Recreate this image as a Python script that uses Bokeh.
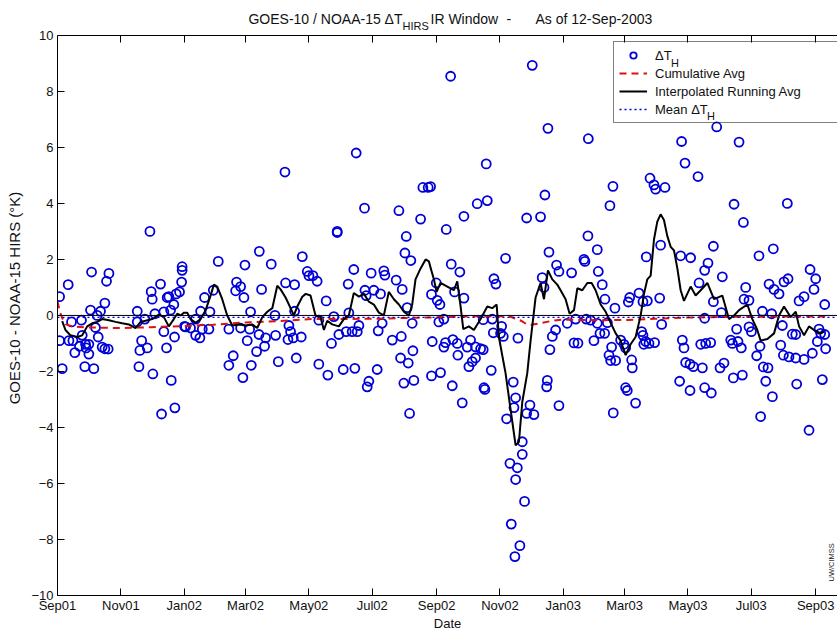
import numpy as np
import pandas as pd
from math import pi
from bokeh.plotting import figure
from bokeh.models import (Range1d, FixedTicker, DatetimeTickFormatter, DatetimeAxis, Legend,
                          LegendItem, Label, Span, CustomJSTickFormatter)
from bokeh.embed import file_html
from bokeh.resources import INLINE

# ---------------- data ----------------
START = "2001-09-01"
END = "2003-09-22"
tick_dates = ["2001-09-01", "2001-11-01", "2002-01-01", "2002-03-01", "2002-05-01", "2002-07-01",
              "2002-09-01", "2002-11-01", "2003-01-01", "2003-03-01", "2003-05-01", "2003-07-01",
              "2003-09-01"]
y_ticks = [-10, -8, -6, -4, -2, 0, 2, 4, 6, 8, 10]
y_tick_labels = ["\u221210", "\u22128", "\u22126", "\u22124", "\u22122", "0", "2", "4", "6", "8", "10"]
Y_MIN, Y_MAX = -10, 10

# observations: days since 2001-09-01, delta T (K)
obs_day = [2, 10.3, 32.8, 49.5, 47.2, 89, 90.2, 91.2, 99.2, 105.6, 107.2, 114.3, 117.5, 45.6, 31.8,
           41.4, 38.2, 13.5, 23.1, 2, 11, 14.8, 36.6, 23.8, 21.2, 27, 27.6, 16.7, 30.2, 43, 45.6, 48.8,
           4.5, 26.3, 35, 76.8, 76.8, 84.1, 81, 79.3, 86.4, 78.4, 91.8, 109.5, 93.8, 102.4, 102.4,
           112.7, 105, 100.2, 113, 108.9, 112, 122.3, 30.2, 39.2,
           120, 120, 119.5, 154.8, 180.5, 194.3, 205.8, 235.7, 219, 172.4, 176.3, 171.5, 179.5, 196.5,
           150, 141.6, 137.8, 146.8, 133, 123.3, 128.1, 133, 137.1, 139.4, 145.8, 165, 176.3, 185,
           182.7, 185.9, 194, 200.4, 210, 191.7, 199.4, 169.2, 165, 186.6, 178.5, 212.6, 229.9, 219.6,
           228.3, 222.8, 224.4, 221.9, 227, 234.7, 209.4, 240.5, 242.1, 228.3,
           287.6, 295.6, 328.7, 349.6, 351.8, 356.9, 269.3, 269.3, 335.8, 334.5, 340.2, 285.3, 302,
           314.2, 315.2, 326.1, 331.9, 279.9, 245.9, 250, 258.7, 296, 297.2, 304.6, 311, 280.5, 266.1,
           251.6, 270.9, 278, 283.7, 288.6, 290.2, 263.8, 308.8, 312.6, 322.3, 331, 336.7, 341.5,
           342.2, 330.3, 337.7, 251.6, 260.3, 275.1, 286.3, 307.8, 299.8, 298.2, 333.5, 343.1, 339,
           360.1, 360.8, 360.1,
           378.5, 457.1, 472.2, 412.8, 469.3, 404.1, 413.8, 391.3, 451.7, 465.1, 374.3, 473.2, 431.4,
           359.2, 379.1, 387.4, 420.2, 422.1, 466.7, 480.5, 482.8, 364.7, 365.6, 368.2, 382.3, 391.3,
           468.4, 367.2, 372, 373.6, 372, 380.7, 384.9, 385.5, 394.5, 397.7, 402.5, 407.4, 409.9,
           396.1, 399.3, 402.5, 368.8, 380.1, 410.6, 411.5, 389.7, 417.6, 409.9, 418.6, 419.6, 426.6,
           429.2, 427.6, 443.3, 438.8, 441.1, 439.5, 432.4, 454.9, 451.7, 458.7, 447.5, 447.5, 435.6,
           442.7, 441.1, 449.7, 436.9, 445.2, 440.4, 471.6, 471, 474.1, 476.4, 479.6, 482.8,
           511.1, 600.9, 604.2, 534.8, 570.5, 575.9, 584.9, 574.3, 531.9, 510.7, 519.7, 506.9, 507.8,
           520.7, 495, 524.5, 527.1, 536.7, 550.9, 549.6, 559.9, 563.7, 567.9, 566.9, 580.7, 600,
           579.8, 581.7, 490.8, 498.9, 497.3, 501.1, 509.1, 513.3, 516.5, 519.7, 522.3, 526.8, 529.4,
           533.5, 531, 532.6, 537.4, 542.2, 545.4, 547, 552.8, 553.4, 562.4, 563.7, 566.3, 564.5,
           569.5, 574.9, 547, 548.6, 556.6, 535.1, 601.6, 603.2, 604.8, 599,
           634.7, 656.2, 616.7, 651.4, 660.4, 702.7, 631.5, 609.6, 675.4, 689.2, 626.3, 623.1, 640.1,
           617.7, 662.6, 661, 665.8, 631.5, 685.1, 689.9, 694.7, 699.5, 703.4, 724.6, 730, 714,
           718.8, 728.4, 738.7, 623.1, 639.2, 678.7, 687.6, 619.3, 624.1, 628.9, 653.9, 648.2, 649.8,
           655.2, 658.4, 665.8, 668.1, 676.4, 673.2, 697.9, 696.3, 698.9, 707.5, 710.8, 704.3, 710.8,
           718.8, 726.8, 733.2, 734.8, 738.7, 731.6, 739.6, 609, 612.2, 620.9, 637.9, 641.7, 609,
           623.1, 629.5, 650.7, 659.4, 679.6, 684.1, 681.9, 688.3, 677, 711.7, 736.4, 723.6]
obs_dth = [0.67, 1.1, 1.55, 1.5, 1.22, 3.0, 0.85, 0.58, 1.12, 0.64, 0.67, 0.77, 0.84, 0.44, 0.19,
           0.15, 0.0, -0.23, -0.17, -0.9, -0.9, -0.9, -0.43, -0.71, -1.1, -1.03, -1.16, -1.33, -1.38,
           -1.13, -1.19, -1.2, -1.9, -1.83, -1.9, 0.15, -0.23, -0.13, -0.9, -1.25, -1.16, -1.83,
           -2.09, -2.32, 0.06, 0.13, -0.58, -0.77, -1.16, -3.52, -3.3, 0.19, 0.39, -0.39, -1.03, -0.77,
           1.74, 1.61, 1.19, 1.93, 1.8, 2.29, 1.83, 2.1, 5.12, 1.19, 1.03, 0.88, 0.64, 0.93, 0.9,
           0.64, 0.15, 0.13, -0.13, -0.41, -0.45, -0.71, -0.8, -0.49, -0.49, -0.49, -0.45, -0.49,
           -0.9, 0.13, -0.68, -0.8, -0.71, -1.29, -1.1, -1.44, -1.78, -1.78, -2.22, -1.65, -1.52,
           1.16, 1.1, -0.36, -0.58, -0.86, -0.8, -0.77, 0.0, 1.57, 1.42, 0.15,
           5.8, 3.83, 3.74, 3.44, 4.57, 4.57, 3.0, 2.96, 2.82, 2.23, 1.96, 1.64, 1.51, 1.59, 1.44,
           1.26, 0.93, 1.12, 1.42, 1.22, 0.52, 0.9, 0.71, 0.9, 0.77, 0.09, -0.04, -0.17, -0.68,
           -0.58, -0.58, -0.58, -0.36, -1.0, -0.55, -0.28, -0.88, -0.75, 0.28, -0.28, -1.26, -1.52,
           -1.7, -1.74, -2.13, -1.93, -1.89, -1.93, -2.35, -2.55, -2.42, -2.32, -3.5, -2.16, -0.93,
           0.75,
           8.54, 8.93, 6.68, 5.41, 4.3, 3.99, 4.1, 3.54, 3.48, 3.52, 3.07, 2.26, 2.04, 4.6, 1.83,
           1.55, 1.31, 1.12, 1.35, 1.8, 1.57, 1.16, 0.54, 0.39, 0.84, 0.62, 1.0, -0.23, -0.13, -0.97,
           -1.13, -0.86, -1.0, -1.42, -1.13, -0.88, -1.12, -1.19, -1.22, -1.83, -1.65, -1.52, -2.04,
           -2.51, -2.58, -2.64, -3.12, -1.96, -0.15, -0.13, -0.62, -0.64, -0.75, -0.39, -0.81, -2.38,
           -2.94, -3.29, -3.69, -3.2, -3.5, -3.54, -4.51, -4.96, -5.28, -5.44, -5.86, -6.64, -7.45,
           -8.22, -8.61, -2.32, -2.55, -1.22, -0.75, -0.52, -3.22,
           6.31, 6.21, 5.44, 4.61, 4.9, 4.51, 4.57, 4.66, 3.92, 2.84, 2.35, 2.0, 1.93, 1.57, 1.52,
           1.1, 0.58, 0.26, 0.64, 0.48, 0.8, 0.49, 0.52, 2.09, 2.51, 2.13, 0.62, -0.32, -0.28, -0.13,
           -0.98, -0.99, -0.13, -0.17, -0.9, -0.28, -0.64, -0.64, -0.26, -1.13, -1.42, -1.61, -1.61,
           -0.88, -1.03, -1.16, -1.59, -1.87, -0.58, -0.71, -0.93, -1.03, -1.0, -0.97, -2.58, -2.68,
           -3.13, -3.48, -0.88, -1.16, -1.68, -2.35,
           6.73, 6.19, 4.96, 3.97, 3.32, 4.0, 2.47, 2.06, 2.13, 2.38, 1.87, 1.61, 1.38, 1.16, 1.0,
           0.58, 0.54, 0.49, 1.12, 0.93, 0.77, 1.2, 1.31, 1.64, 1.31, 0.52, 0.67, 0.93, 0.39, -0.1,
           0.1, 0.15, 0.06, -1.03, -1.0, -0.97, -0.49, -0.88, -1.0, -0.93, -1.16, -0.41, -0.58, -1.1,
           -1.44, -0.36, -1.06, -1.42, -0.67, -0.68, -1.48, -1.52, -1.57, -1.35, -0.49, -0.64, -0.68,
           -0.93, -1.19, -1.74, -1.83, -1.87, -1.87, -1.7, -2.68, -2.58, -2.77, -2.23, -2.13, -1.84,
           -1.87, -2.35, -2.9, -3.61, -2.45, -2.29, -4.1]

# cumulative average
cum_day = [0, 2.5, 5, 8, 15, 30, 60, 90, 120, 150, 180, 215, 245, 300, 350, 400, 435, 447, 452,
           456, 465, 475, 485, 520, 550, 575, 600, 650, 700, 740]
cum_avg = [0.5, 0.1, -0.13, -0.32, -0.4, -0.43, -0.45, -0.42, -0.38, -0.33, -0.25, -0.2, -0.13,
           -0.12, -0.08, -0.03, -0.03, -0.2, -0.32, -0.33, -0.28, -0.2, -0.15, -0.17, -0.16, -0.12,
           -0.08, -0.05, -0.04, -0.04]

# interpolated running average
run_day = [4.5, 7.7, 12.5, 19, 23.8, 28.6, 33.4, 38.2, 43, 49.5, 55.9, 62.3, 68.7, 75.1, 80, 84.8,
           91.2, 97.6, 102.4, 107.2, 112, 115.3, 118.5, 121.7, 124.9, 128.1, 133, 137.8, 142.6,
           147.4, 150.6, 153.8, 158.6, 163.4, 168.3, 174.7, 181.1, 187.5, 192.3, 197.2, 202, 206.8,
           211.6, 214.8, 219.6, 224.4, 227.6, 230.9, 235.7, 239, 243.6, 248.4, 253.2, 256.5, 259.7,
           264.5, 270.9, 275.7, 280.5, 285.3, 290.2, 295, 299.8, 304.6, 309.4, 314.2, 319, 323.9,
           328.7, 333.5, 338.3, 341.5, 344.7, 349.6, 354.4, 357.6, 360, 362.4, 365, 368.8, 375.3,
           381.7, 384.9, 388.1, 390.7, 396.1, 400.9, 407.4, 413.8, 418.6, 422.8, 425, 428.2, 431.4,
           436.2, 441.1, 444.3, 447.5, 452.3, 455.5, 460.3, 465.1, 468.4, 472.2, 476.4, 481.2,
           484.4, 489.2, 493.1, 497.3, 500.5, 505.3, 510.1, 514.3, 518.1, 523, 527.8, 532.6, 537.4,
           542.2, 547, 551.8, 556.6, 561.5, 564.7, 567.9, 571.1, 574.3, 577.5, 580.7, 583.9, 587.1,
           590.4, 593.6, 596.8, 600, 603.2, 609.6, 614.4, 619.3, 625.7, 632.1, 640.1, 646.5, 651.4,
           656.2, 664.2, 669, 673.8, 677, 683.5, 689.9, 694.7, 699.5, 705.9, 710.8, 714, 718.8,
           723.6, 728.4, 734.8, 738]
run_avg = [-0.2, -0.52, -0.71, -0.77, -0.71, -0.39, -0.28, -0.23, -0.13, -0.17, -0.23, -0.28,
           -0.32, -0.45, -0.23, -0.19, -0.13, 0.03, -0.06, -0.39, -0.13, 0.06, 0.0, 0.1, 0.1, -0.13,
           -0.26, -0.13, 0.19, 0.71, 1.1, 1.03, 0.58, 0.0, -0.36, -0.32, -0.36, -0.32, -0.45, -0.06,
           0.13, 0.26, 1.06, 0.93, 0.64, 0.26, 0.0, 0.32, 0.67, 0.77, 0.71, 0.0, -0.06, -0.52, -0.19,
           -0.32, -0.39, -0.13, 0.0, 0.8, 0.67, 0.77, 0.49, 0.39, 0.1, 0.0, 0.84, 0.58, 0.39, 0.13,
           0.0, 0.39, 1.29, 1.68, 2.0, 1.93, 1.6, 1.29, 0.84, 1.16, 1.03, 0.9, 1.22, 0.32, -0.49,
           -0.39, -0.52, -0.13, 0.32, 0.26, 0.39, -0.77, -1.42, -2.06, -3.35, -4.64, -4.51, -3.09,
           -2.06, -0.9, 0.64, 1.16, 0.58, 1.61, 1.29, 1.1, 0.9, 0.58, 0.06, 0.19, 0.97, 0.9, 1.16,
           1.16, 0.9, 0.39, 0.13, -0.26, -0.64, -0.9, -1.42, -1.03, -0.77, 0.0, 0.77, 1.29, 1.42,
           2.71, 3.35, 3.61, 3.41, 2.84, 2.45, 2.32, 1.68, 0.9, 0.52, 1.03, 0.71, 0.9, 1.16, 0.58,
           0.71, -0.13, 0.0, 0.19, 0.39, -0.13, -0.52, -0.9, -0.84, -0.64, 0.0, 0.32, -0.06, 0.13,
           -0.39, -0.71, -0.39, -0.52, -0.64, -0.58]

mean_dth = -0.07

# ---------------- figure ----------------
base = pd.Timestamp(START)


def to_dt(days):
    return base + pd.to_timedelta(np.asarray(days, dtype=float), unit="D")


tick_ms = [pd.Timestamp(d).value / 1e6 for d in tick_dates]
FONT = "Liberation Sans"
INK = "#111111"

# layout: the frame reaches the top of the canvas so that the title (drawn inside it) shows;
# the axes box itself is drawn from Y_MIN to Y_MAX.
FRAME_BOTTOM_PX, BOX_TOP_PX = 597, 35
px_per_unit = (FRAME_BOTTOM_PX - BOX_TOP_PX) / (Y_MAX - Y_MIN)
y_top = Y_MAX + BOX_TOP_PX / px_per_unit

p = figure(width=837, height=633, x_axis_type="datetime",
           x_range=Range1d(pd.Timestamp(START), pd.Timestamp(END)),
           y_range=Range1d(Y_MIN, y_top), output_backend="svg", toolbar_location=None,
           min_border_left=57, min_border_right=0, min_border_top=0, min_border_bottom=36,
           background_fill_color="white", border_fill_color="white")
p.xgrid.visible = False
p.ygrid.visible = False
p.outline_line_color = None

fmt = "%b%y"
p.xaxis.ticker = FixedTicker(ticks=tick_ms)
p.xaxis.formatter = DatetimeTickFormatter(microseconds=fmt, milliseconds=fmt, seconds=fmt,
                                          minsec=fmt, minutes=fmt, hourmin=fmt, hours=fmt,
                                          days=fmt, months=fmt, years=fmt)
p.yaxis.ticker = FixedTicker(ticks=y_ticks)
p.yaxis.bounds = (Y_MIN, Y_MAX)
p.yaxis.major_label_overrides = dict(zip(y_ticks, y_tick_labels))
for ax in (p.xaxis, p.yaxis):
    ax.major_tick_in = 7
    ax.major_tick_out = 0
    ax.minor_tick_line_color = None
    ax.axis_line_color = "black"
    ax.major_tick_line_color = "black"
    ax.major_label_text_font = FONT
    ax.major_label_text_font_size = "13px"
    ax.major_label_text_color = INK
    ax.axis_label_text_font = FONT
    ax.axis_label_text_font_size = "13px"
    ax.axis_label_text_font_style = "normal"
    ax.axis_label_text_color = INK
    ax.major_label_standoff = 2
    ax.axis_label_standoff = 0
p.yaxis.major_label_standoff = 4
p.yaxis.axis_label_standoff = 5
p.yaxis.axis_label_text_font_size = "15px"
p.xaxis.axis_label = "Date"
p.yaxis.axis_label = "GOES-10 - NOAA-15 HIRS (\u00b0K)"

# top edge of the axes box, with inward ticks, at y = Y_MAX
top = DatetimeAxis(ticker=FixedTicker(ticks=tick_ms), formatter=CustomJSTickFormatter(code="return ''"),
                   fixed_location=Y_MAX, major_tick_in=7, major_tick_out=0,
                   minor_tick_line_color=None, axis_line_color="black",
                   major_tick_line_color="black", major_label_standoff=0,
                   major_label_text_font_size="1px")
p.add_layout(top, "above")

p.add_layout(Span(location=0, dimension="width", line_color="black", line_width=1))

sc = p.scatter(to_dt(obs_day), obs_dth, marker="circle", size=9, fill_color=None,
               line_color="#0000d8", line_width=1.8)
cum = p.line(to_dt(cum_day), cum_avg, line_color="#e01010", line_width=2, line_dash="7 5")
run = p.line(to_dt(run_day), run_avg, line_color="black", line_width=2)
mean = p.line([pd.Timestamp(START), pd.Timestamp(END)], [mean_dth, mean_dth],
              line_color="#0000d8", line_width=1.3, line_dash="2 3")

legend = Legend(items=[LegendItem(label="\u0394T", renderers=[sc]),
                       LegendItem(label="Cumulative Avg", renderers=[cum]),
                       LegendItem(label="Interpolated Running Avg", renderers=[run]),
                       LegendItem(label="Mean \u0394T", renderers=[mean])],
                location=(556, 472), margin=0, padding=5, spacing=2, label_height=16,
                glyph_height=16, glyph_width=28, label_standoff=8, label_width=177,
                border_line_color="black", border_line_width=1, background_fill_alpha=0,
                label_text_font=FONT, label_text_font_size="13px", label_text_color=INK)
p.add_layout(legend)

# legend subscripts (screen px from the frame's bottom-left corner)
for lx, ly in ((613.5, 533), (649.5, 480)):
    p.add_layout(Label(x=lx, y=ly, x_units="screen", y_units="screen", text="H",
                       text_baseline="alphabetic", text_font=FONT, text_font_size="11px",
                       text_color=INK))

# title composed with subscript (screen px from the frame's bottom-left corner)
title_parts = [("GOES-10 / NOAA-15 \u0394T", 345, 577, "right", "14px"),
               ("HIRS", 345, 570, "left", "11px"),
               ("IR Window", 373, 577, "left", "14px"),
               ("-", 449, 577, "left", "14px"),
               ("As of 12-Sep-2003", 478, 577, "left", "14px")]
for txt, tx, ty, al, fs in title_parts:
    p.add_layout(Label(x=tx, y=ty, x_units="screen", y_units="screen", text=txt, text_align=al,
                       text_baseline="alphabetic", text_font=FONT, text_font_size=fs,
                       text_color=INK))

p.add_layout(Label(x=778, y=14, x_units="screen", y_units="screen", text="UW/CIMSS",
                   angle=pi / 2, text_align="left", text_baseline="bottom", text_font=FONT,
                   text_font_size="7.5px", text_color="#222222"))

open("out.html", "w").write(file_html(p, INLINE))
